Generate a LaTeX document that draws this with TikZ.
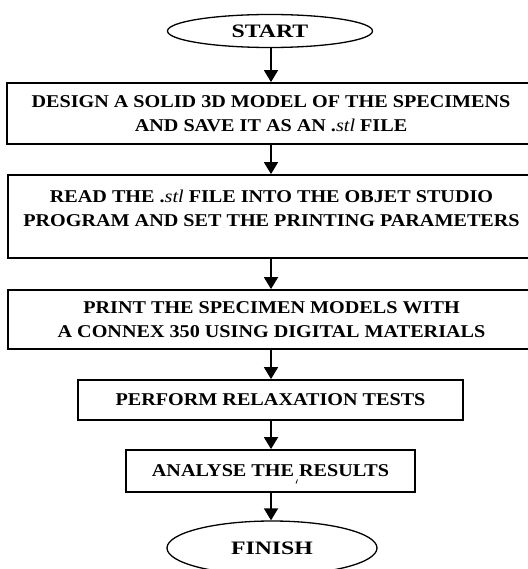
\documentclass[tikz,border=0pt]{standalone}
\usepackage{fontspec}
\setmainfont{Liberation Serif}[FakeStretch=1.12]
\newfontfamily\daufont{Liberation Serif}[FakeStretch=1.25]
\usepackage{tikz}
\usetikzlibrary{positioning,arrows.meta,shapes.geometric}

\begin{document}
\begin{tikzpicture}[x=1pt,y=-1pt,
		buoc/.style={draw,line width=1.8pt,align=center,inner sep=0pt,
			font=\bfseries\fontsize{18}{24}\selectfont},
		dau/.style={buoc,ellipse,line width=1.3pt,font=\daufont\bfseries\fontsize{19}{24}\selectfont},
		mui/.style={line width=1.8pt,-{Triangle[width=14pt,length=12pt]}}]
	\useasboundingbox (0,0) rectangle (527,569);
	
	% mở đầu và kết thúc
	\node[dau,minimum width=205pt,minimum height=33pt] (batdau) at (270,31) {START};
	\node[dau,minimum width=210pt,minimum height=54pt] (ketthuc) at (272,548) {FINISH};
	
	% các bước
	\node[buoc,minimum width=528pt,minimum height=61pt] (thietke) at (271,113.5)
		{DESIGN A SOLID 3D MODEL OF THE SPECIMENS\\AND SAVE IT AS AN .\textnormal{\textit{stl}} FILE};
	\node[buoc,minimum width=527pt,minimum height=83pt] (doctep) at (271.5,216.5)
		{READ THE .\textnormal{\textit{stl}} FILE INTO THE OBJET STUDIO\\PROGRAM AND SET THE PRINTING PARAMETERS\\[-7pt]\mbox{}};
	\node[buoc,minimum width=527pt,minimum height=59pt] (in) at (271.5,319.5)
		{PRINT THE SPECIMEN MODELS WITH\\A CONNEX 350 USING DIGITAL MATERIALS};
	\node[buoc,minimum width=385pt,minimum height=40pt] (thunghiem) at (270.5,400)
		{PERFORM RELAXATION TESTS};
	\node[buoc,minimum width=289pt,minimum height=42pt] (phantich) at (270.5,471)
		{ANALYSE THE RESULTS};
	
	% vết nhỏ dưới chữ
	\draw[line width=0.8pt] (297.5,479.5) -- (296,483.5);
	
	% mũi tên nối các bước
	\foreach \a/\b in {batdau/thietke,thietke/doctep,doctep/in,in/thunghiem,thunghiem/phantich,phantich/ketthuc}
		\draw[mui] (\a.south -| 271,0) -- (\b.north -| 271,0);
\end{tikzpicture}
\end{document}
